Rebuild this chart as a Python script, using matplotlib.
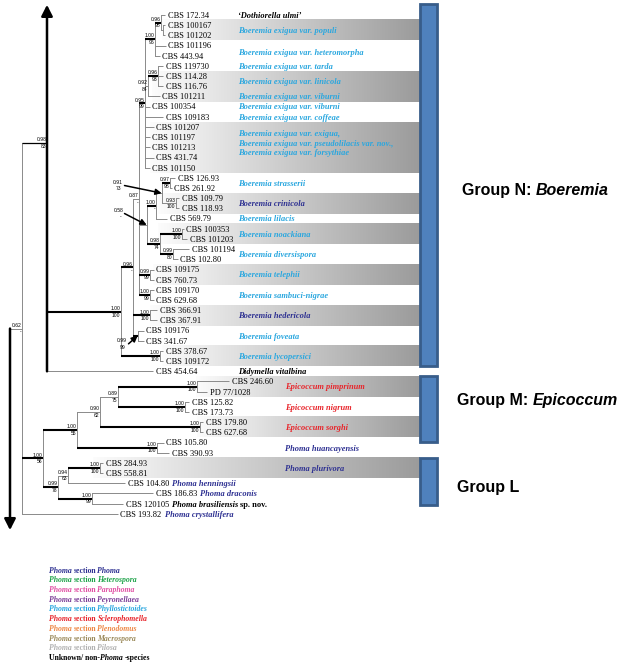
import matplotlib
matplotlib.use('Agg')
import matplotlib.pyplot as plt
from matplotlib.patches import Rectangle
from matplotlib.colors import LinearSegmentedColormap
import numpy as np

plt.rcParams['font.family'] = 'Liberation Serif'

# ── Tree data: Newick pieces, branch lengths in drawing units, node label = posterior/bootstrap ──
P2 = '(CBS 100167:2,CBS 101202:2)'
P1 = '(CBS 172.34:4,' + P2 + ':2)0.96/98'
Q = '(' + P1 + ':6,CBS 101196:11,CBS 443.94:5)1.00/96'
T = '(CBS 119730:5,CBS 114.28:5,CBS 116.76:5)0.96/93'
U = '(' + T + ':10,CBS 101211:12)0.92/84'
EXIGUA = ('(' + Q + ':10,' + U + ':3,CBS 100354:5,CBS 109183:18,CBS 101207:9,'
          'CBS 101197:5,CBS 101213:5,CBS 431.74:9,CBS 101150:5)0.95/99')
STRASSERI = '(CBS 126.93:5,CBS 261.92:2)0.97/98'
CRINICOLA = '(CBS 109.79:3,CBS 118.93:3)0.93/100'
SC = '(' + STRASSERI + ':8,' + CRINICOLA + ':14)0.91/73'
L1 = '(' + SC + ':6,CBS 569.79:11)1.00/-'
NOACKIANA = '(CBS 100353:2,CBS 101203:5)1.00/100'
DIVERSISPORA = '(CBS 101194:16,CBS 102.80:5)0.99/80'
ND = '(' + NOACKIANA + ':22,' + DIVERSISPORA + ':13)0.98/74'
N1 = '(' + L1 + ':9,' + ND + ':13)0.58/-'
TELEPHII = '(CBS 109175:4,CBS 760.73:4)0.99/99'
SAMBUCI = '(CBS 109170:4,CBS 629.68:4)1.00/99'
K1 = '(' + EXIGUA + ':6,' + N1 + ':8,' + TELEPHII + ':11,' + SAMBUCI + ':11)0.87/-'
HEDERICOLA = '(CBS 366.91:7,CBS 367.91:7)1.00/100'
FOVEATA = '(CBS 109176:6,CBS 341.67:6)0.99/99'
K0 = '(' + K1 + ':6,' + HEDERICOLA + ':17,' + FOVEATA + ':5)0.96/-'
LYCOPERSICI = '(CBS 378.67:3,CBS 109172:3)1.00/100'
BOEREMIA = '(' + K0 + ':12,' + LYCOPERSICI + ':39)1.00/100'
B = '(' + BOEREMIA + ':74,CBS 454.64:106)0.98/83'
PIMPRINUM = '(CBS 246.60:32,PD 77/1028:10)1.00/100'
NIGRUM = '(CBS 125.82:4,CBS 173.73:4)1.00/100'
J = '(' + PIMPRINUM + ':79,' + NIGRUM + ':67)0.89/75'
SORGHI = '(CBS 179.80:3,CBS 627.68:3)1.00/100'
I = '(' + J + ':18,' + SORGHI + ':100)0.90/62'
HUANCAY = '(CBS 105.80:7,CBS 390.93:12)1.00/100'
D = '(' + I + ':23,' + HUANCAY + ':80)1.00/55'
PLURIVORA = '(CBS 284.93:3,CBS 558.81:3)1.00/100'
H = '(' + PLURIVORA + ':32,CBS 104.80:57)0.94/63'
G = '(CBS 186.83:61,CBS 120105:31)1.00/99'
E = '(' + H + ':10,' + G + ':34)0.99/78'
C = '(' + D + ':34,' + E + ':15)1.00/56'
TREE = '(' + B + ':25,' + C + ':21,CBS 193.82:96)0.62/-:12;'

# species names beside the clades: (row, name, section)
CLADE_NAMES = [
    (0, '\u2018Dothiorella ulmi\u2019', 'unknown'),
    (1.5, 'Boeremia exigua var. populi', 'Phyllostictoides'),
    (3.65, 'Boeremia exigua var. heteromorpha', 'Phyllostictoides'),
    (5, 'Boeremia exigua var. tarda', 'Phyllostictoides'),
    (6.5, 'Boeremia exigua var. linicola', 'Phyllostictoides'),
    (8, 'Boeremia exigua var. viburni', 'Phyllostictoides'),
    (9, 'Boeremia exigua var. viburni', 'Phyllostictoides'),
    (10, 'Boeremia exigua var. coffeae', 'Phyllostictoides'),
    (11.65, 'Boeremia exigua var. exigua,', 'Phyllostictoides'),
    (12.55, 'Boeremia exigua var. pseudolilacis var. nov.,', 'Phyllostictoides'),
    (13.45, 'Boeremia exigua var. forsythiae', 'Phyllostictoides'),
    (16.5, 'Boeremia strasserii', 'Phyllostictoides'),
    (18.5, 'Boeremia crinicola', 'Phoma'),
    (20, 'Boeremia lilacis', 'Phyllostictoides'),
    (21.5, 'Boeremia noackiana', 'Phyllostictoides'),
    (23.5, 'Boeremia diversispora', 'Phyllostictoides'),
    (25.5, 'Boeremia telephii', 'Phyllostictoides'),
    (27.5, 'Boeremia sambuci-nigrae', 'Phyllostictoides'),
    (29.5, 'Boeremia hedericola', 'Phoma'),
    (31.5, 'Boeremia foveata', 'Phyllostictoides'),
    (33.5, 'Boeremia lycopersici', 'Phyllostictoides'),
    (35, 'Didymella vitalbina', 'unknown'),
    (36.5, 'Epicoccum pimprinum', 'Sclerophomella'),
    (38.5, 'Epicoccum nigrum', 'Sclerophomella'),
    (40.5, 'Epicoccum sorghi', 'Sclerophomella'),
    (42.5, 'Phoma huancayensis', 'Phoma'),
    (44.5, 'Phoma plurivora', 'Phoma'),
]
# species written right after the strain number: pieces of (text, italic)
TIP_NAMES = {
    'CBS 104.80': ([('Phoma henningsii', True)], 'Phoma'),
    'CBS 186.83': ([('Phoma draconis', True)], 'Phoma'),
    'CBS 120105': ([('Phoma brasiliensis', True), ('sp. nov.', False)], 'unknown'),
    'CBS 193.82': ([('Phoma crystallifera', True)], 'Phoma'),
}
SHADED_TIPS = [(1, 2), (6, 8), (11, 15), (18, 19), (21, 22), (25, 26),
               (29, 30), (33, 34), (36, 37), (40, 41), (44, 45)]
GROUP_NAMES = ['Group N:', 'Group M:', 'Group L']
GROUP_GENERA = ['Boeremia', 'Epicoccum', '']

SECTIONS = ['Phoma', 'Heterospora', 'Paraphoma', 'Peyronellaea', 'Phyllostictoides',
            'Sclerophomella', 'Plenodomus', 'Macrospora', 'Pilosa']
SECTION_COLORS = {'Phoma': '#2E3192', 'Heterospora': '#1FA34A', 'Paraphoma': '#E04FA3',
                  'Peyronellaea': '#7A3D96', 'Phyllostictoides': '#2AA7DF',
                  'Sclerophomella': '#E8252B', 'Plenodomus': '#EE8745',
                  'Macrospora': '#9C8B5C', 'Pilosa': '#B2B2B2', 'unknown': '#000000'}


# ── Newick parsing / layout ────────────────────────────────────────────────────
def parse(s):
    s = s.strip().rstrip(';')
    pos = 0

    def read():
        nonlocal pos
        node = {'children': [], 'name': '', 'len': 0.0}
        if s[pos] == '(':
            pos += 1
            while True:
                node['children'].append(read())
                ch = s[pos]
                pos += 1
                if ch == ')':
                    break
        start = pos
        while pos < len(s) and s[pos] not in ':,)':
            pos += 1
        node['name'] = s[start:pos].strip()
        if pos < len(s) and s[pos] == ':':
            pos += 1
            start = pos
            while pos < len(s) and s[pos] not in ',)':
                pos += 1
            node['len'] = float(s[start:pos])
        return node
    return read()


tips = []


def place(node, x0):
    node['x'] = x0 + node['len']
    for c in node['children']:
        place(c, node['x'])
    if node['children']:
        node['y'] = (node['children'][0]['y'] + node['children'][-1]['y']) / 2
        node['span'] = (node['children'][0]['span'][0], node['children'][-1]['span'][1])
    else:
        node['y'] = len(tips)
        node['span'] = (node['name'], node['name'])
        tips.append(node)


root = parse(TREE)
place(root, 10)
cont = root['children'][0]          # its sister clade continues above the page (arrow)
cont['y'] = 12.6
root['y'] = (cont['y'] + root['children'][-1]['y']) / 2

# ── Figure ────────────────────────────────────────────────────────────────────
fig = plt.figure(figsize=(6.2, 6.64), dpi=100)
ax = fig.add_axes([0, 0, 1, 1])
ax.set_xlim(0, 620)
ax.set_ylim(63.75, -1.4735)
ax.axis('off')
renderer = fig.canvas.get_renderer()

GREY = '#8a8a8a'
BASE = 0.28                      # baseline offset (rows) for 6 pt text centred on a row
SUP_FONT = dict(family='Liberation Sans', fontsize=3.6)
ARROW_LABELS = {('CBS 126.93', 'CBS 118.93'): (123, 16.75),
                ('CBS 126.93', 'CBS 102.80'): (123, 19.5),
                ('CBS 109176', 'CBS 341.67'): (127, 32.3)}

# shaded clade boxes
BOX_LEFT = [162, 152, 150, 158, 158, 153, 150, 162, 196, 197, 93]
BOX_RIGHT = 420
shade = LinearSegmentedColormap.from_list('shade', ['#fcfcfc', '#9b9b9b'])
grad = np.linspace(0, 1, 256)[None, :]
for (r0, r1), x0 in zip(SHADED_TIPS, BOX_LEFT):
    ax.imshow(grad, extent=(x0, BOX_RIGHT, r1 + 0.5, r0 - 0.5), cmap=shade,
              aspect='auto', interpolation='bilinear', zorder=0)


def right_end(t):
    bb = t.get_window_extent(renderer)
    return ax.transData.inverted().transform((bb.x1, bb.y0))[0]


def put_pieces(x, y, pieces, gap_it=2.0, gap_up=1.05, **kw):
    # consecutive text pieces on one baseline, italic or upright
    for txt, italic in pieces:
        t = ax.text(x, y, txt, va='baseline', fontstyle='italic' if italic else 'normal', **kw)
        x = right_end(t) + (gap_it if italic else gap_up)


def draw(node, x0):
    sup = node['name'].split('/') if node['children'] and '/' in node['name'] else None
    strong = sup is not None and float(sup[0]) >= 0.95
    if node is cont:
        colour, lw = 'black', 0.9
    else:
        colour, lw = ('black', 1.5) if strong else (GREY, 0.7)
    ax.plot([x0, node['x']], [node['y'], node['y']], color=colour, lw=lw,
            solid_capstyle='butt', zorder=2)
    if not node['children']:
        t = ax.text(node['x'] + 2.5, node['y'] + BASE, node['name'], fontsize=6,
                    va='baseline', zorder=3)
        if node['name'] in TIP_NAMES:
            pieces, sec = TIP_NAMES[node['name']]
            put_pieces(right_end(t) + 3, node['y'] + BASE, pieces, fontsize=6,
                       fontweight='bold', color=SECTION_COLORS[sec], zorder=3)
        return
    ys = [c['y'] for c in node['children']]
    if node is not cont:
        ax.plot([node['x'], node['x']], [min(ys), max(ys)], color=GREY, lw=0.7, zorder=2)
    for c in node['children']:
        draw(c, node['x'])
    if sup:
        if node['span'] in ARROW_LABELS:
            lx, ly = ARROW_LABELS[node['span']]
            ax.text(lx, ly - 0.08, sup[0], ha='right', va='bottom', **SUP_FONT)
            ax.text(lx - 1.5, ly + 0.08, sup[1], ha='right', va='top', **SUP_FONT)
            ax.annotate('', xy=(node['x'] - 0.3, node['y']), xytext=(lx + 1.5, ly),
                        arrowprops=dict(arrowstyle='-|>,head_length=0.45,head_width=0.22',
                                        color='black', lw=1.1, mutation_scale=8,
                                        shrinkA=0, shrinkB=0), zorder=4)
        else:
            ax.text(node['x'] - 0.6, node['y'] - 0.08, sup[0], ha='right', va='bottom', **SUP_FONT)
            ax.text(node['x'] - 0.6, node['y'] + 0.08, sup[1], ha='right', va='top', **SUP_FONT)


draw(root, 10)

# continuation arrows
head = dict(arrowstyle='-|>,head_length=0.55,head_width=0.28', color='black', lw=1.8,
            mutation_scale=12, shrinkA=0, shrinkB=0)
ax.annotate('', xy=(cont['x'], -1.0), xytext=(cont['x'], cont['children'][-1]['y']),
            arrowprops=head, zorder=4)
ax.annotate('', xy=(10, 50.6), xytext=(10, root['y']), arrowprops=head, zorder=4)

# species names of the clades
for row, name, sec in CLADE_NAMES:
    x = 238 if row <= 35 else 285
    ax.text(x, row + BASE, name, fontsize=6, fontweight='bold', fontstyle='italic',
            color=SECTION_COLORS[sec], va='baseline', zorder=3)

# group bars and labels
BAR_ROWS = [(-1.08, 34.5), (35.5, 41.9), (43.5, 48.1)]
LABEL_AT = [(462, 17.7), (457, 38.3), (457, 46.85)]
for (top, bot), (lx, ly), gname, genus in zip(BAR_ROWS, LABEL_AT, GROUP_NAMES, GROUP_GENERA):
    ax.add_patch(Rectangle((BOX_RIGHT, top), 17, bot - top, facecolor='#4F81BD',
                           edgecolor='#385D8A', lw=2, zorder=3))
    t = ax.text(lx, ly, gname, fontsize=11.5, fontweight='bold', family='Liberation Sans',
                va='baseline')
    if genus:
        ax.text(right_end(t) + 4, ly, genus, va='baseline', fontsize=11.5, fontweight='bold',
                fontstyle='italic', family='Liberation Sans')

# section legend
for i, sec in enumerate(SECTIONS):
    put_pieces(49, 54.5 + 0.953 * i + BASE, [('Phoma', True), ('section', False), (sec, True)],
               fontsize=5.6, fontweight='bold', color=SECTION_COLORS[sec])
put_pieces(49, 54.5 + 0.953 * len(SECTIONS) + BASE,
           [('Unknown/ non-', False), ('Phoma', True), ('-species', False)],
           gap_it=1.6, gap_up=0.3, fontsize=5.6, fontweight='bold', color='black')

fig.savefig('out.png', dpi=100)
